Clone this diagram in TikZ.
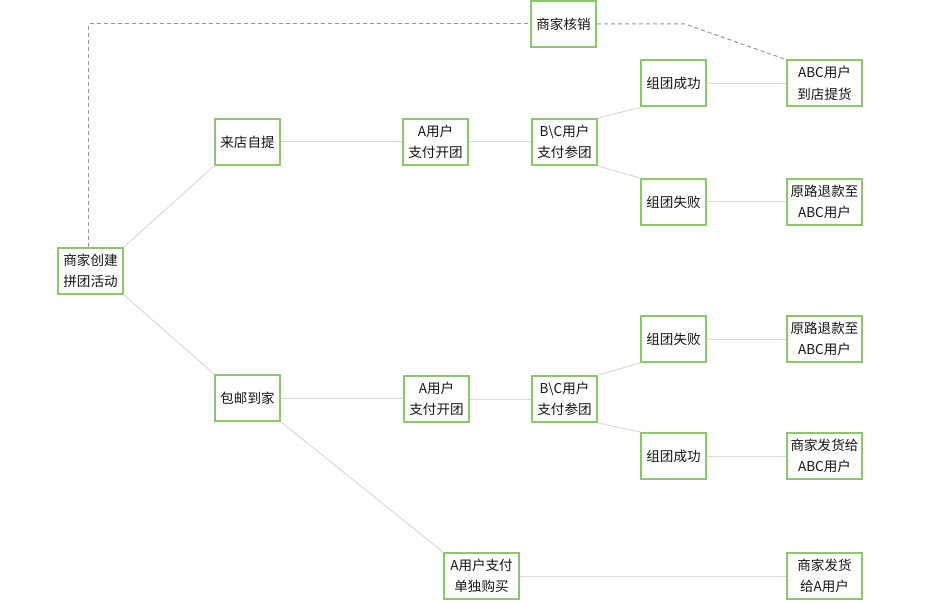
\documentclass[tikz,border=0pt]{standalone}
\usepackage{fontspec}
\newfontfamily\cjk{Noto Sans CJK SC}
\usetikzlibrary{positioning,backgrounds}
\definecolor{boxgreen}{RGB}{141,199,107}
\definecolor{linegray}{RGB}{218,218,218}
\definecolor{dashgray}{RGB}{150,150,150}
\definecolor{txtgray}{RGB}{20,20,20}
\tikzset{box/.style={draw=boxgreen, line width=2bp, fill=white, text=txtgray,
    minimum width=65bp, minimum height=46bp, inner sep=2pt, align=center,
    font=\cjk\fontsize{13.6}{21.5}\selectfont},
  wide/.style={box, minimum width=75bp},
  link/.style={draw=linegray, line width=1bp},
  verify/.style={draw=dashgray, line width=1bp, dash pattern=on 4bp off 3bp}}

\begin{document}
\begin{tikzpicture}[x=1bp,y=-1bp]
    \useasboundingbox (0,0) rectangle (937,604);

    \node[box] (C) at (90.5,271) {商家创建\\拼团活动};
    \node[box] (ZT) at (247.5,142) {来店自提};
    \node[box] (BY) at (247.5,398) {包邮到家};
    \node[box] (HX) at (563.5,24) {商家核销};

    % upper branch
    \node[box] (KT1) at (435.5,142) {A用户\\支付开团};
    \node[box] (CT1) at (564.5,142) {B\textbackslash C用户\\支付参团};
    \node[box] (OK1) at (673.5,83.5) {组团成功};
    \node[box] (NO1) at (673.5,202) {组团失败};
    \node[wide] (TH) at (824.5,83.5) {ABC用户\\到店提货};
    \node[wide] (TK1) at (824.5,202) {原路退款至\\ABC用户};

    % lower branch
    \node[box] (KT2) at (436.5,399) {A用户\\支付开团};
    \node[box] (CT2) at (564.5,399) {B\textbackslash C用户\\支付参团};
    \node[box] (NO2) at (673.5,339) {组团失败};
    \node[box] (OK2) at (673.5,456) {组团成功};
    \node[wide] (TK2) at (824.5,339) {原路退款至\\ABC用户};
    \node[wide] (FH) at (824.5,456) {商家发货给\\ABC用户};
    \node[wide] (DD) at (481.5,576) {A用户支付\\单独购买};
    \node[wide] (FA) at (824.5,576) {商家发货\\给A用户};

    \coordinate (K) at (685,24);

    \begin{scope}[on background layer]
    \draw[link] (C.north east) -- (ZT.south west);
    \draw[link] (C.south east) -- (BY.north west);
    \draw[link] (ZT) -- (KT1);
    \draw[link] (KT1) -- (CT1);
    \draw[link] (CT1.north east) -- (OK1.south west);
    \draw[link] (CT1.south east) -- (NO1.north west);
    \draw[link] (OK1) -- (TH);
    \draw[link] (NO1) -- (TK1);

    \draw[link] (BY) -- (KT2.west |- BY);
    \draw[link] (KT2) -- (CT2);
    \draw[link] (CT2.north east) -- (NO2.south west);
    \draw[link] (CT2.south east) -- (OK2.north west);
    \draw[link] (NO2) -- (TK2);
    \draw[link] (OK2) -- (FH);
    \draw[link] (BY.south east) -- (DD.north west);
    \draw[link] (DD) -- (FA);

    \draw[verify] ([xshift=-2bp]C.north) |- (HX.west);
    \draw[verify] (HX.east) -- (K) -- (TH.north west);
    \end{scope}
\end{tikzpicture}
\end{document}
